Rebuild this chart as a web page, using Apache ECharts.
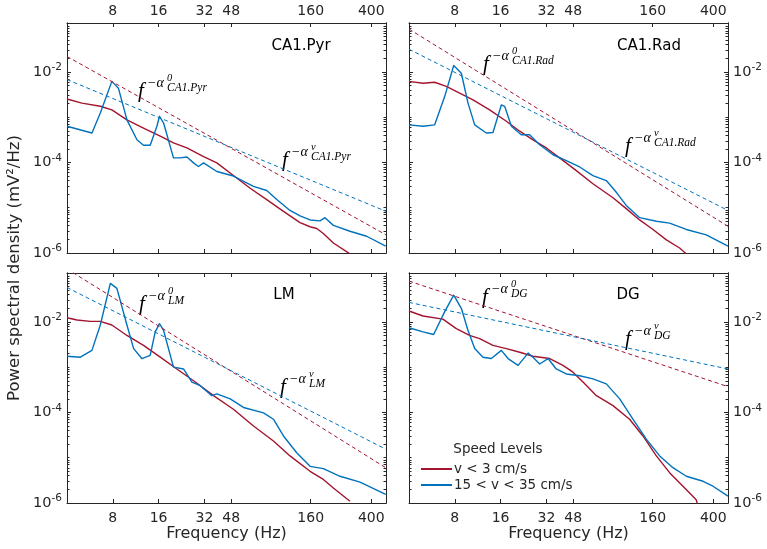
<!DOCTYPE html>
<html><head><meta charset="utf-8">
<script src="https://cdn.jsdelivr.net/npm/echarts@6/dist/echarts.min.js"></script>
<style>html,body{margin:0;padding:0;background:#fff}#c{width:767px;height:549px}</style>
</head><body><div id="c"></div>
<script>
// ---------------- data ----------------
const freqTicks = [8, 16, 32, 48, 160, 400];          // Hz
const psdTicks = [1e-6, 1e-4, 1e-2];                  // mV^2/Hz
const freqRange = [4, 500];                           // Hz
const psdRange = [1e-6, 0.12];                        // mV^2/Hz
const panelNames = ['CA1.Pyr', 'CA1.Rad', 'LM', 'DG'];
const speedLevels = ['v < 3 cm/s', '15 < v < 35 cm/s'];
const fitIndex = ['0', 'v'];

// each point: [log10 frequency (Hz), log10 PSD (mV^2/Hz)]
const pyrSlow = [[0.602,-2.60],[0.700,-2.69],[0.821,-2.76],[0.897,-2.84],[0.996,-3.06],[1.105,-3.24],[1.215,-3.42],[1.302,-3.57],[1.390,-3.68],[1.500,-3.87],[1.587,-4.01],[1.696,-4.29],[1.806,-4.57],[1.915,-4.82],[2.025,-5.08],[2.134,-5.33],[2.200,-5.42],[2.244,-5.46],[2.287,-5.57],[2.353,-5.78],[2.462,-6.02]];
const pyrFast = [[0.602,-3.20],[0.766,-3.35],[0.821,-2.91],[0.897,-2.21],[0.940,-2.36],[0.996,-3.06],[1.062,-3.50],[1.105,-3.62],[1.149,-3.62],[1.193,-3.20],[1.210,-2.98],[1.237,-3.13],[1.302,-3.90],[1.346,-3.90],[1.390,-3.88],[1.434,-4.01],[1.466,-4.09],[1.500,-4.01],[1.587,-4.20],[1.696,-4.30],[1.828,-4.53],[1.915,-4.62],[1.981,-4.82],[2.068,-5.06],[2.134,-5.18],[2.200,-5.27],[2.265,-5.29],[2.298,-5.22],[2.353,-5.39],[2.462,-5.52],[2.572,-5.63],[2.697,-5.85]];
const pyrFitSlow = [[0.602,-1.66],[2.699,-5.60]];
const pyrFitFast = [[0.602,-2.17],[2.699,-5.08]];

const radSlow = [[0.602,-2.21],[0.694,-2.25],[0.771,-2.23],[0.847,-2.32],[0.935,-2.47],[1.023,-2.62],[1.132,-2.84],[1.242,-3.09],[1.330,-3.31],[1.417,-3.50],[1.505,-3.68],[1.592,-3.90],[1.702,-4.18],[1.811,-4.47],[1.943,-4.78],[2.030,-5.02],[2.118,-5.27],[2.206,-5.48],[2.294,-5.71],[2.381,-5.89],[2.425,-6.02]];
const radFast = [[0.602,-3.17],[0.694,-3.20],[0.771,-3.17],[0.837,-2.54],[0.896,-1.86],[0.946,-2.03],[0.990,-2.69],[1.034,-3.17],[1.110,-3.35],[1.154,-3.34],[1.209,-2.73],[1.231,-2.76],[1.275,-3.20],[1.340,-3.39],[1.395,-3.39],[1.461,-3.61],[1.549,-3.83],[1.636,-3.96],[1.724,-4.10],[1.811,-4.29],[1.899,-4.40],[1.965,-4.66],[2.030,-4.95],[2.118,-5.22],[2.228,-5.30],[2.315,-5.34],[2.425,-5.48],[2.556,-5.60],[2.699,-5.85]];
const radFitSlow = [[0.602,-1.055],[2.699,-5.41]];
const radFitFast = [[0.602,-1.50],[2.699,-5.06]];

const lmSlow = [[0.602,-1.91],[0.668,-1.96],[0.755,-1.99],[0.821,-1.99],[0.897,-2.07],[0.996,-2.30],[1.105,-2.52],[1.215,-2.78],[1.324,-3.04],[1.434,-3.30],[1.565,-3.63],[1.696,-3.93],[1.828,-4.30],[1.959,-4.63],[2.068,-4.96],[2.200,-5.30],[2.287,-5.48],[2.353,-5.67],[2.462,-5.96]];
const lmFast = [[0.602,-2.76],[0.690,-2.78],[0.766,-2.63],[0.821,-2.07],[0.887,-1.15],[0.930,-1.26],[0.996,-2.07],[1.040,-2.59],[1.094,-2.81],[1.149,-2.74],[1.182,-2.22],[1.210,-2.04],[1.237,-2.19],[1.302,-3.00],[1.368,-3.04],[1.423,-3.33],[1.478,-3.41],[1.554,-3.63],[1.587,-3.59],[1.675,-3.70],[1.762,-3.89],[1.894,-4.01],[1.959,-4.15],[2.025,-4.52],[2.112,-4.89],[2.200,-5.19],[2.287,-5.24],[2.397,-5.41],[2.528,-5.54],[2.697,-5.81]];
const lmFitSlow = [[0.602,-0.83],[2.697,-5.22]];
const lmFitFast = [[0.602,-1.24],[2.697,-4.81]];

const dgSlow = [[0.602,-1.76],[0.694,-1.87],[0.825,-1.94],[0.913,-2.15],[1.000,-2.30],[1.066,-2.37],[1.154,-2.52],[1.242,-2.59],[1.330,-2.67],[1.417,-2.76],[1.527,-2.81],[1.614,-2.96],[1.680,-3.11],[1.746,-3.33],[1.834,-3.63],[1.943,-3.85],[2.052,-4.15],[2.140,-4.52],[2.228,-4.96],[2.315,-5.33],[2.403,-5.63],[2.490,-5.93],[2.500,-6.04]];
const dgFast = [[0.602,-2.13],[0.694,-2.22],[0.764,-2.28],[0.836,-1.78],[0.896,-1.41],[0.946,-1.70],[0.990,-2.19],[1.034,-2.59],[1.088,-2.78],[1.143,-2.81],[1.209,-2.63],[1.253,-2.81],[1.319,-2.96],[1.385,-2.69],[1.417,-2.78],[1.461,-2.93],[1.516,-2.81],[1.570,-3.04],[1.636,-3.15],[1.724,-3.19],[1.811,-3.26],[1.899,-3.37],[1.987,-3.70],[2.074,-4.15],[2.162,-4.59],[2.250,-4.96],[2.337,-5.22],[2.425,-5.41],[2.535,-5.52],[2.600,-5.63],[2.699,-5.85]];
const dgFitSlow = [[0.602,-1.10],[2.699,-3.43]];
const dgFitFast = [[0.602,-1.57],[2.699,-3.04]];

// ---------------- layout / style ----------------
const panels = [
  {slow: pyrSlow, fast: pyrFast, fitSlow: pyrFitSlow, fitFast: pyrFitFast},
  {slow: radSlow, fast: radFast, fitSlow: radFitSlow, fitFast: radFitFast},
  {slow: lmSlow, fast: lmFast, fitSlow: lmFitSlow, fitFast: lmFitFast},
  {slow: dgSlow, fast: dgFast, fitSlow: dgFitSlow, fitFast: dgFitFast}
];
const gridBoxes = [
  {left: 67, top: 23, xPos: 'top', yPos: 'left'},
  {left: 409, top: 23, xPos: 'top', yPos: 'right'},
  {left: 67, top: 273, xPos: 'bottom', yPos: 'left'},
  {left: 409, top: 273, xPos: 'bottom', yPos: 'right'}
];
const titlePos = [[301, 46], [649, 46], [284, 295], [628, 295]];
const annotPos = [
  [[138, 91], [282, 160]],
  [[483, 64], [625, 146]],
  [[139, 304], [280, 387]],
  [[482, 297], [625, 339]]
];
const RED = '#A2142F', BLUE = '#0072BD', AX = '#262626';
const FONT = '"DejaVu Sans", sans-serif';
const SERIF = '"Liberation Serif", "DejaVu Serif", serif';

const lx = freqRange.map(Math.log10);
const ly = psdRange.map(Math.log10);
const xTickVals = freqTicks.map(Math.log10);
const yTickVals = psdTicks.map(Math.log10);
const yMinorVals = [];
for (let e = -6; e <= -1; e++) {
  for (let k = 1; k <= 9; k++) {
    const v = Math.log10(k * Math.pow(10, e));
    if (v > ly[0] + 1e-9 && v < ly[1] && !yTickVals.some(t => Math.abs(t - v) < 1e-9)) yMinorVals.push(v);
  }
}

const grid = [], xAxis = [], yAxis = [], series = [], graphic = [];
const opp = {top: 'bottom', bottom: 'top', left: 'right', right: 'left'};

gridBoxes.forEach((b, g) => {
  grid.push({left: b.left, top: b.top, width: 319, height: 230, containLabel: false});
  const xBase = (pos, labels) => ({
    type: 'value', gridIndex: g, position: pos, min: lx[0], max: lx[1],
    axisLine: {show: true, onZero: false, lineStyle: {color: AX, width: 1}},
    axisTick: {show: true, inside: true, length: 4, customValues: xTickVals, lineStyle: {color: AX}},
    axisLabel: {show: labels, customValues: xTickVals, margin: pos === 'top' ? 5 : 8,
      formatter: v => String(Math.round(Math.pow(10, v))),
      fontFamily: FONT, fontSize: 14, color: AX},
    splitLine: {show: false}
  });
  const xMain = xBase(b.xPos, true);
  if (b.xPos === 'bottom') {
    xMain.name = 'Frequency (Hz)';
    xMain.nameLocation = 'middle';
    xMain.nameGap = 23;
    xMain.nameTextStyle = {fontFamily: FONT, fontSize: 16, color: AX, verticalAlign: 'top'};
  }
  xAxis.push(xMain, xBase(opp[b.xPos], false));

  const yBase = (pos, labels, vals, len) => ({
    type: 'value', gridIndex: g, position: pos, min: ly[0], max: ly[1],
    axisLine: {show: true, onZero: false, lineStyle: {color: AX, width: 1}},
    axisTick: {show: true, inside: true, length: len, customValues: vals, lineStyle: {color: AX}},
    axisLabel: {show: labels, customValues: yTickVals, margin: 5,
      formatter: v => '10{sup|' + Math.round(v) + '}',
      fontFamily: FONT, fontSize: 14.5, color: AX,
      rich: {sup: {fontFamily: FONT, fontSize: 10.5, color: AX, padding: [0, 0, 9, 0]}}},
    splitLine: {show: false}
  });
  yAxis.push(
    yBase(b.yPos, true, yTickVals, 4),
    yBase(opp[b.yPos], false, yTickVals, 4),
    yBase(b.yPos, false, yMinorVals, 2.5),
    yBase(opp[b.yPos], false, yMinorVals, 2.5)
  );

  const p = panels[g];
  const mk = (name, data, color, dashed, z) => ({
    type: 'line', name, data, xAxisIndex: 2 * g, yAxisIndex: 4 * g,
    symbol: 'none', showSymbol: false, clip: true, silent: true, z,
    lineStyle: {color, width: dashed ? 1 : 1.4, type: dashed ? [4, 3] : 'solid', join: 'round'},
    itemStyle: {color}
  });
  series.push(
    mk(speedLevels[0], p.slow, RED, false, 2),
    mk(speedLevels[1], p.fast, BLUE, false, 3),
    mk('fit ' + speedLevels[0], p.fitSlow, RED, true, 4),
    mk('fit ' + speedLevels[1], p.fitFast, BLUE, true, 4)
  );

  graphic.push({type: 'text', x: titlePos[g][0], y: titlePos[g][1], z: 10,
    style: {text: panelNames[g], font: '15px ' + FONT, fill: '#000', align: 'center', verticalAlign: 'middle'}});

  annotPos[g].forEach((pt, i) => {
    graphic.push({type: 'group', x: pt[0], y: pt[1], z: 10, children: [
      {type: 'text', x: 0, y: 0, style: {text: 'f', font: 'italic 21px ' + SERIF, fill: '#000', verticalAlign: 'middle'}},
      {type: 'text', x: 9, y: -8, style: {text: '\u2212\u03B1', font: 'italic 14px ' + SERIF, fill: '#000', verticalAlign: 'middle'}},
      {type: 'text', x: 29, y: -12.5, style: {text: fitIndex[i], font: 'italic 10.5px ' + SERIF, fill: '#000', verticalAlign: 'middle'}},
      {type: 'text', x: 29, y: -3, style: {text: panelNames[g], font: 'italic 11.5px ' + SERIF, fill: '#000', verticalAlign: 'middle'}}
    ]});
  });
});

graphic.push({type: 'text', x: 15, y: 268, rotation: Math.PI / 2, z: 10,
  style: {text: 'Power spectral density (mV\u00B2/Hz)', font: '16.5px ' + FONT, fill: AX, align: 'center', verticalAlign: 'middle'}});
graphic.push({type: 'text', x: 498, y: 449, z: 10,
  style: {text: 'Speed Levels', font: '13.5px ' + FONT, fill: AX, align: 'center', verticalAlign: 'middle'}});

const chart = echarts.init(document.getElementById('c'), null, {renderer: 'canvas'});
chart.setOption({
  animation: false,
  backgroundColor: '#fff',
  grid, xAxis, yAxis, series, graphic,
  legend: {
    data: speedLevels, orient: 'vertical', left: 421, top: 461, padding: 0,
    itemGap: 0, itemWidth: 31, itemHeight: 2, icon: 'rect',
    textStyle: {fontFamily: FONT, fontSize: 13.5, color: AX, lineHeight: 16, padding: [0, 0, 0, -3]}
  }
});
</script>
</body></html>
